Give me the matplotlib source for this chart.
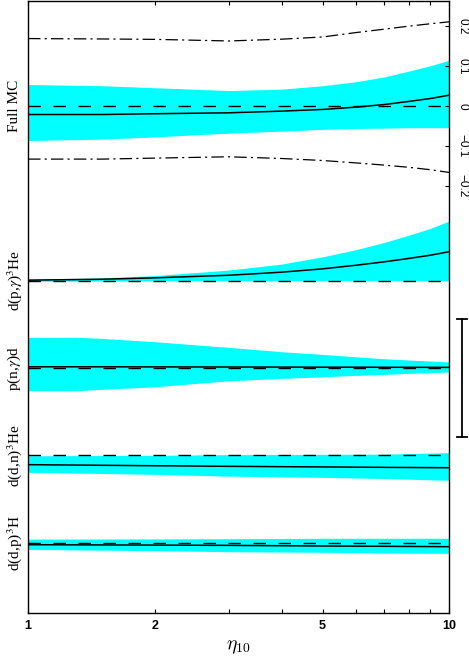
import numpy as np
import matplotlib
matplotlib.use('Agg')
import matplotlib.pyplot as plt

plt.rcParams['lines.scale_dashes'] = False

# eta_10 sample points
eta = [1, 1.5, 2, 3, 4, 5, 6, 7, 8, 9, 10]

# Full MC
mc_mid = [-0.021, -0.021, -0.019, -0.0167, -0.0125, -0.0083, -0.0025, 0.004, 0.0117, 0.019, 0.0275]
mc_lo = [-0.086, -0.0825, -0.077, -0.0675, -0.0625, -0.058, -0.056, -0.055, -0.054, -0.054, -0.054]
mc_hi = [0.054, 0.051, 0.046, 0.039, 0.0425, 0.051, 0.061, 0.073, 0.0875, 0.101, 0.115]
mc_up = [0.169, 0.168, 0.167, 0.163, 0.1675, 0.173, 0.184, 0.1925, 0.2, 0.206, 0.211]
mc_dn = [-0.1325, -0.1325, -0.13, -0.1267, -0.131, -0.136, -0.142, -0.1475, -0.153, -0.159, -0.166]

# d(p,g)3He
dpg_mid = [0.0017, 0.004, 0.0075, 0.014, 0.0217, 0.03, 0.039, 0.0475, 0.056, 0.064, 0.073]
dpg_lo = [-0.001, -0.0005, 0, 0, 0, 0, 0, 0, 0, 0, 0]
dpg_hi = [0.004, 0.0075, 0.013, 0.027, 0.042, 0.06, 0.078, 0.096, 0.114, 0.131, 0.15]

# p(n,g)d
pn_x = [1, 1.3, 1.5, 2, 3, 4, 5, 6, 7, 8, 10]
pn_mid = [0.004, 0.004, 0.004, 0.0038, 0.0035, 0.0033, 0.003, 0.003, 0.0028, 0.0027, 0.0025]
pn_lo = [-0.056, -0.056, -0.0525, -0.046, -0.031, -0.025, -0.021, -0.0175, -0.015, -0.0125, -0.009]
pn_hi = [0.0775, 0.078, 0.075, 0.0667, 0.0525, 0.0417, 0.035, 0.029, 0.024, 0.021, 0.016]

# d(d,n)3He
dn_x = [1, 2, 3, 5, 7, 10]
dn_mid = [-0.0233, -0.026, -0.0275, -0.029, -0.03, -0.031]
dn_lo = [-0.0425, -0.0475, -0.052, -0.055, -0.058, -0.0625]
dn_hi = [-0.001, 0, 0.0017, 0.0025, 0.003, 0.0067]

# d(d,p)3H
dp_x = [1, 2, 3, 5, 7, 10]
dp_mid = [-0.005, -0.006, -0.0067, -0.0083, -0.009, -0.01]
dp_lo = [-0.0167, -0.02, -0.0225, -0.024, -0.026, -0.0267]
dp_hi = [0.009, 0.0095, 0.01, 0.011, 0.011, 0.011]

labels = ['Full MC', r'd(p,$\gamma$)$^3$He', r'p(n,$\gamma$)d', r'd(d,n)$^3$He', r'd(d,p)$^3$H']
offsets = [1.267, 0.830, 0.611, 0.3935, 0.175]
right_ticks = [-0.2, -0.1, 0, 0.1, 0.2]
right_labels = ['\u22120.2', '\u22120.1', '0', '0.1', '0.2']
x_ticks = [1, 2, 5, 10]

cyan = '#00ffff'

fig = plt.figure(figsize=(4.69, 6.58), dpi=100)
ax = fig.add_axes([0.0597, 0.0689, 0.8987, 0.9296])
ax.set_xscale('log')
ax.set_xlim(1, 10)
ax.set_ylim(0, 1.53)

panels = [
    (eta, mc_mid, mc_lo, mc_hi),
    (eta, dpg_mid, dpg_lo, dpg_hi),
    (pn_x, pn_mid, pn_lo, pn_hi),
    (dn_x, dn_mid, dn_lo, dn_hi),
    (dp_x, dp_mid, dp_lo, dp_hi),
]

for (xs, mid, lo, hi), off, lab in zip(panels, offsets, labels):
    xs = np.array(xs)
    ax.fill_between(xs, np.array(lo) + off, np.array(hi) + off, color=cyan, lw=0, zorder=1)
    ax.plot([1, 9.8], [off, off], color='black', lw=1.0, dashes=(9, 9), zorder=2)
    ax.plot(xs, np.array(mid) + off, color='black', lw=1.1, zorder=3)
    ax.text(-0.033, off, lab, transform=ax.get_yaxis_transform(), rotation=90,
            ha='center', va='center', fontsize=11, family='Liberation Serif',
            math_fontfamily='stix')

# dash-dot limits for the full MC panel
mc_off = offsets[0]
ax.plot(eta, np.array(mc_up) + mc_off, color='black', lw=0.9, dashes=(9, 3, 1.5, 3))
ax.plot(eta, np.array(mc_dn) + mc_off, color='black', lw=0.9, dashes=(9, 3, 1.5, 3))

# scale bar on the right
bar_lo, bar_hi = 0.4385, 0.7343
tr = ax.get_yaxis_transform()
ax.plot([1.029, 1.029], [bar_lo, bar_hi], color='black', lw=1.3, transform=tr, clip_on=False)
for yb in (bar_lo, bar_hi):
    ax.plot([1.017, 1.041], [yb, yb], color='black', lw=1.3, transform=tr, clip_on=False)

# axes styling
for s in ax.spines.values():
    s.set_linewidth(1.0)
ax.yaxis.tick_right()
ax.set_yticks([mc_off + v for v in right_ticks])
ax.set_yticklabels(right_labels, rotation=-90, family='Liberation Sans', fontsize=8.5,
                   va='center')
ax.tick_params(axis='y', which='both', direction='in', length=3, width=0.8, pad=5,
               left=False, right=True)

ax.set_xticks(x_ticks)
ax.set_xticklabels([str(v) for v in x_ticks], family='Liberation Sans', fontweight='bold',
                   fontsize=9)
ax.set_xticks([3, 4, 6, 7, 8, 9], minor=True)
ax.xaxis.set_minor_formatter(matplotlib.ticker.NullFormatter())
ax.tick_params(axis='x', which='both', direction='in', length=3, width=0.8, pad=5,
               top=True, bottom=True)
ax.set_xlabel(r'$\eta_{10}$', fontsize=14, math_fontfamily='cm', labelpad=4)

fig.savefig('out.png', dpi=100)
